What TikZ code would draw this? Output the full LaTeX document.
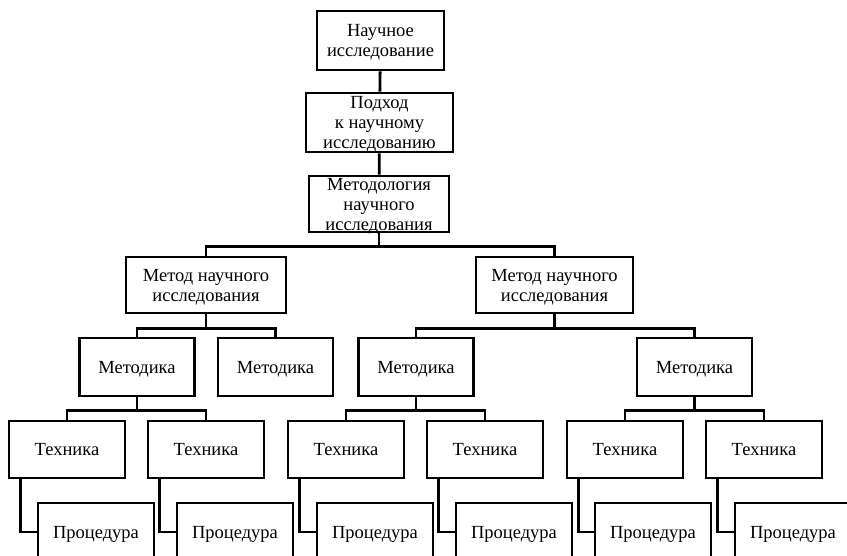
\documentclass[tikz,border=0pt]{standalone}
\usepackage{fontspec}
\setmainfont{Liberation Serif}
\begin{document}
\begin{tikzpicture}[x=1pt,y=-1pt,
  box/.style={draw,line width=2.8pt,fill=white,align=center,inner sep=0pt,
    text depth=0pt,font=\fontsize{18.5}{20}\selectfont},
  wire/.style={line width=2.8pt}]
\useasboundingbox (0,0) rectangle (847,556);
\clip (0,0) rectangle (847,556);
% nodes
\node[box,minimum width=127pt,minimum height=59pt] (b1) at (380.5,40.5) {Научное\\исследование};
\node[box,minimum width=147pt,minimum height=59pt] (b2) at (379.5,122.5) {Подход\\к научному\\исследованию};
\node[box,minimum width=140pt,minimum height=56pt] (b3) at (379,204) {Методология\\научного\\исследования};
\node[box,minimum width=160pt,minimum height=56pt] (m1) at (206,285) {Метод научного\\исследования};
\node[box,minimum width=157pt,minimum height=56pt] (m2) at (554.5,285) {Метод научного\\исследования};
\foreach \n/\x in {k1/137,k2/275.5,k3/416,k4/694.5}
  \node[box,minimum width=115pt,minimum height=58pt] (\n) at (\x,367) {Методика};
\foreach \n/\x in {t1/67,t2/206,t3/346,t4/485,t5/625,t6/764}
  \node[box,minimum width=116pt,minimum height=57pt] (\n) at (\x,449.5) {Техника};
\foreach \n/\x in {p1/96,p2/235,p3/375,p4/514,p5/653,p6/793}
  \node[box,minimum width=116pt,minimum height=58pt] (\n) at (\x,532) {Процедура};
% connectors
\draw[wire] (b1) -- (b2);
\draw[wire] (b2) -- (b3);
\draw[wire] (b3.south) -- ++(0,13) -| (m1.north);
\draw[wire] (b3.south) -- ++(0,13) -| (m2.north);
\draw[wire] (m1.south) -- ++(0,14) -| (k1.north);
\draw[wire] (m1.south) -- ++(0,14) -| (k2.north);
\draw[wire] (m2.south) -- ++(0,14) -| (k3.north);
\draw[wire] (m2.south) -- ++(0,14) -| (k4.north);
\draw[wire] (k1.south) -- ++(0,13) -| (t1.north);
\draw[wire] (k1.south) -- ++(0,13) -| (t2.north);
\draw[wire] (k3.south) -- ++(0,13) -| (t3.north);
\draw[wire] (k3.south) -- ++(0,13) -| (t4.north);
\draw[wire] (k4.south) -- ++(0,13) -| (t5.north);
\draw[wire] (k4.south) -- ++(0,13) -| (t6.north);
\foreach \i in {1,...,6}
  \draw[wire] ([xshift=13pt]t\i.south west) |- (p\i.west);
\end{tikzpicture}
\end{document}
